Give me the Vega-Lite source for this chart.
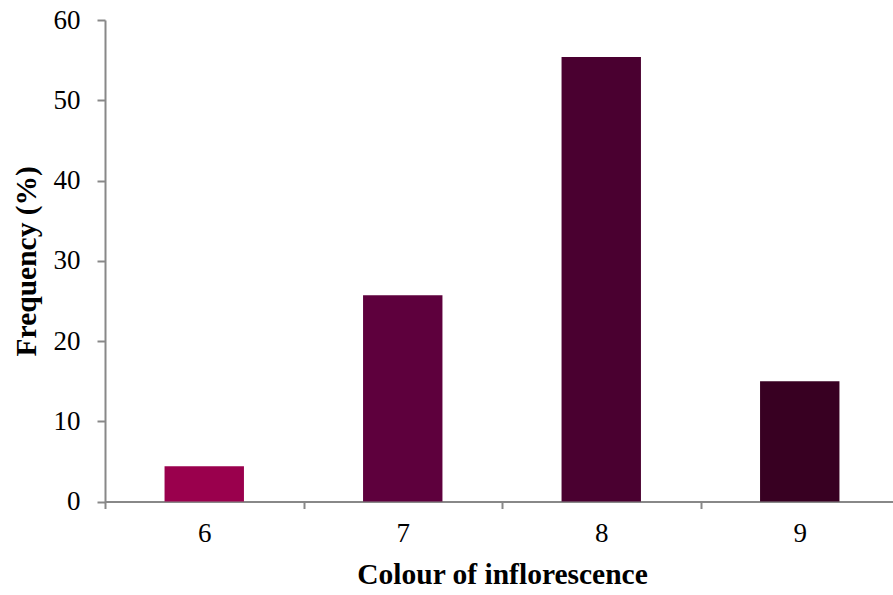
{
  "$schema": "https://vega.github.io/schema/vega-lite/v6.json",
  "width": 794,
  "height": 481.5,
  "autosize": {"type": "none"},
  "padding": {"left": 105, "top": 20, "right": 0, "bottom": 93.5},
  "background": "white",
  "config": {"view": {"stroke": null}, "font": "Liberation Serif"},
  "data": {"values": [
    {"colour": "6", "frequency": 4.4},
    {"colour": "7", "frequency": 25.7},
    {"colour": "8", "frequency": 55.4},
    {"colour": "9", "frequency": 15.0}
  ]},
  "mark": {"type": "bar"},
  "encoding": {
    "x": {
      "field": "colour", "type": "nominal",
      "scale": {"paddingInner": 0.6, "paddingOuter": 0.3},
      "axis": {
        "title": "Colour of inflorescence", "labelAngle": 0,
        "tickOffset": -99.25, "labelOffset": 99.25, "tickSize": 7, "tickColor": "#888888", "domainColor": "#888888",
        "domainWidth": 2, "tickWidth": 2,
        "labelFont": "Liberation Serif", "labelFontSize": 27, "labelColor": "black", "labelPadding": 12,
        "titleFont": "Liberation Serif", "titleFontSize": 29.5, "titleFontWeight": "bold", "titleColor": "black", "titlePadding": 14
      }
    },
    "y": {
      "field": "frequency", "type": "quantitative",
      "scale": {"domain": [0, 60]},
      "axis": {
        "title": "Frequency (%)", "values": [0, 10, 20, 30, 40, 50, 60], "grid": false,
        "tickSize": 8, "tickColor": "#888888", "domainColor": "#888888", "domainWidth": 2, "tickWidth": 2,
        "labelFont": "Liberation Serif", "labelFontSize": 27, "labelColor": "black", "labelPadding": 17,
        "titleFont": "Liberation Serif", "titleFontSize": 29.5, "titleFontWeight": "bold", "titleColor": "black", "titlePadding": 12
      }
    },
    "color": {
      "field": "colour", "type": "nominal", "legend": null,
      "scale": {"domain": ["6", "7", "8", "9"], "range": ["#9A004D", "#5E003D", "#4A0030", "#380022"]}
    }
  }
}
